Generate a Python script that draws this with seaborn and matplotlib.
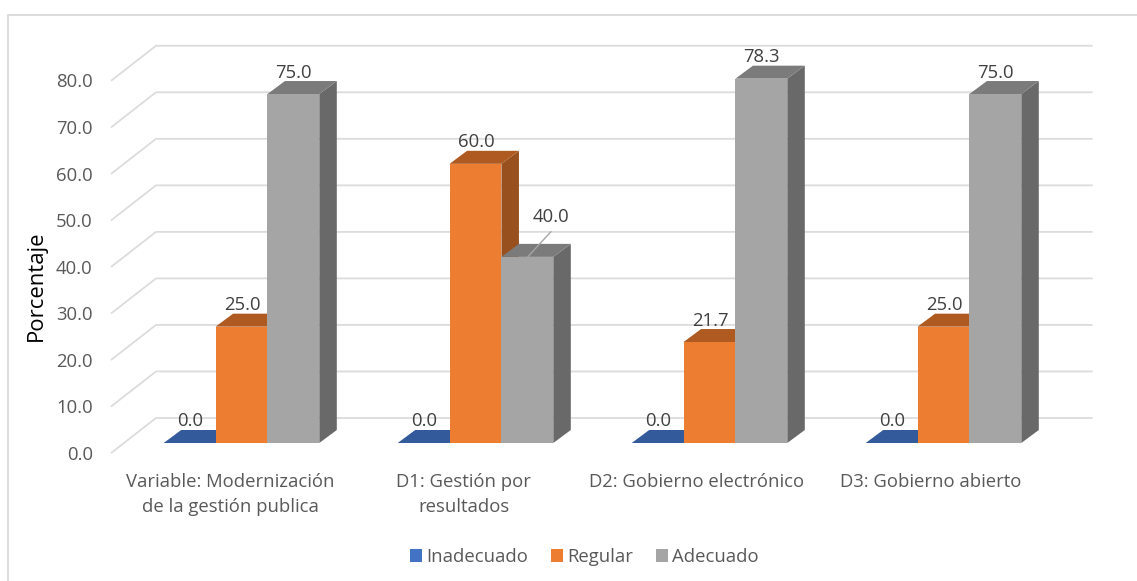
import numpy as np
import pandas as pd
import seaborn as sns
import matplotlib.pyplot as plt
from matplotlib.lines import Line2D

categorias = ["Variable: Modernización\nde la gestión publica", "D1: Gestión por\nresultados",
              "D2: Gobierno electrónico", "D3: Gobierno abierto"]
inadecuado = [0.0, 0.0, 0.0, 0.0]
regular = [25.0, 60.0, 21.7, 25.0]
adecuado = [75.0, 40.0, 78.3, 75.0]
ticks_y = [0, 10, 20, 30, 40, 50, 60, 70, 80]

W, H = 1137, 581
FS = 13.3
GRIS_LINEA = "#dcdcdc"
GRIS_TEXTO = "#595959"

# colores: frente, arriba, lado
colores = {"Inadecuado": ("#4472c4", "#335a9a", "#2b4c82"),
           "Regular": ("#ed7d31", "#ae5a21", "#98501e"),
           "Adecuado": ("#a5a5a5", "#7b7b7b", "#696969")}

df = pd.DataFrame({"categoria": categorias, "Inadecuado": inadecuado, "Regular": regular, "Adecuado": adecuado})
df = df.melt(id_vars="categoria", var_name="nivel", value_name="valor")

sns.set_theme(style="white")
plt.rcParams["font.family"] = ["Open Sans", "DejaVu Sans"]

fig = plt.figure(figsize=(W / 100, H / 100), dpi=100)


def caja(izq, y0, ancho, alto):
    return [izq / W, 1 - y0 / H, ancho / W, alto / H]


# plano frontal: ticks y rejilla
PX_Y = 4.653
ax0 = fig.add_axes(caja(111.5, 452.7, 936, 80 * PX_Y))
ax0.set_xlim(-0.5, 3.5)
ax0.set_ylim(0, 80)
sns.despine(ax=ax0, left=True, bottom=True)
ax0.patch.set_alpha(0)

dx_pared, dy_pared = 44.5 / 234, 34.7 / PX_Y
for t in ticks_y:
    ax0.plot([-0.5, -0.5 + dx_pared, 3.5 + dx_pared], [t, t + dy_pared, t + dy_pared],
             color=GRIS_LINEA, lw=1.3, clip_on=False, solid_joinstyle="miter")

ax0.set_yticks(ticks_y, [f"{t:.1f}" for t in ticks_y], fontsize=FS, color=GRIS_TEXTO)
ajuste_px = [1.5, 1, 0.5, 0]
ax0.set_xticks(np.arange(4) + np.array(ajuste_px) / 234, categorias, fontsize=FS, color=GRIS_TEXTO, linespacing=1.5)
ax0.tick_params(axis="y", length=0, pad=13.5)
ax0.tick_params(axis="x", length=0, pad=14.5)
ax0.set_ylabel("Porcentaje", fontsize=15.9, color="black", labelpad=0)
ax0.yaxis.set_label_coords((47 - 111.5) / 936, (452.7 - 286) / (80 * PX_Y))

# barras
ax = fig.add_axes(caja(124.5, 443, 936, 80 * PX_Y))
sns.barplot(data=df, x="categoria", y="valor", hue="nivel", ax=ax, width=0.665, gap=0, saturation=1, linewidth=0,
            palette={k: v[0] for k, v in colores.items()})
ax.set_xlim(-0.5, 3.5)
ax.set_ylim(0, 80)
ax.patch.set_alpha(0)
sns.despine(ax=ax, left=True, bottom=True)
ax.set(xlabel="", ylabel="", xticks=[], yticks=[])

dx, dy = 17.5 / 234, 13 / PX_Y
for i, (nivel, cont) in enumerate(zip(colores, ax.containers)):
    frente, arriba, lado = colores[nivel]
    for barra in cont:
        x0, x1 = barra.get_x(), barra.get_x() + barra.get_width()
        v = barra.get_height()
        barra.set_zorder(3 + 2 * i + 1)
        if v > 0:
            ax.fill([x1, x1 + dx, x1 + dx, x1], [0, dy, v + dy, v], color=lado, lw=0, zorder=3 + 2 * i, clip_on=False)
        ax.fill([x0, x1, x1 + dx, x0 + dx], [v, v, v + dy, v + dy], color=arriba, lw=0, zorder=3 + 2 * i, clip_on=False)
        if nivel == "Adecuado" and v == 40.0:
            # etiqueta movida con línea guía
            ax.annotate(f"{v:.1f}", xy=((x0 + x1) / 2, v), xytext=(23.5 * 0.72, 40 * 0.72), textcoords="offset points",
                        ha="center", va="center", fontsize=FS, color="#404040", zorder=20, annotation_clip=False)
            ax.annotate("", xy=((x0 + x1) / 2 + 0.6 / 234, v + 0.05), xytext=(23 * 0.72, 25 * 0.72), textcoords="offset points",
                        arrowprops=dict(arrowstyle="-", color="#a6a6a6", lw=1, shrinkA=0, shrinkB=0), zorder=20, annotation_clip=False)
        else:
            ax.annotate(f"{v:.1f}", xy=((x0 + x1) / 2, v), xytext=(0.5 * 0.72, 21.5 * 0.72), textcoords="offset points",
                        ha="center", va="center", fontsize=FS, color="#404040", zorder=20, annotation_clip=False)

sns.move_legend(ax, "center", bbox_to_anchor=(584.5 / W, 1 - 557 / H), bbox_transform=fig.transFigure, ncol=3, title=None,
                frameon=False, fontsize=FS, labelcolor=GRIS_TEXTO, handlelength=0.65, handleheight=0.65,
                handletextpad=0.22, columnspacing=1.25)

# marco exterior
fig.add_artist(Line2D([7.5 / W, 7.5 / W, 1], [0, 1 - 15 / H, 1 - 15 / H], color=GRIS_LINEA, lw=1.4))

fig.savefig("out.png", dpi=100, facecolor="white")
